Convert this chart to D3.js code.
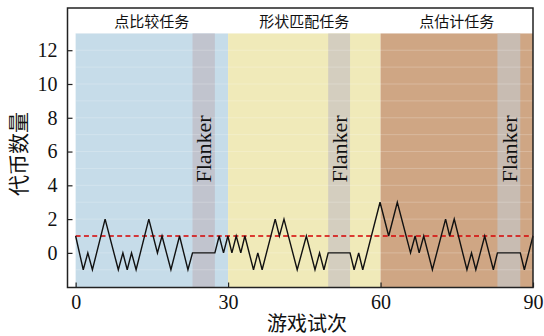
<!DOCTYPE html>
<html>
<head>
<meta charset="utf-8">
<script src="https://cdn.jsdelivr.net/npm/d3@7"></script>
<style>
  body { margin: 0; background: #fff; }
  svg { display: block; }
</style>
</head>
<body>
<div id="chart"></div>
<script>
// task blocks (trial ranges) and their names
var taskNames = ["点比较任务", "形状匹配任务", "点估计任务"];
var taskStart = [0, 30, 60];
var taskEnd = [30, 60, 90];
var taskColors = ["#c6dce9", "#f0eab9", "#cfa684"];

// flanker blocks inside each task
var flankerStart = [23.0, 49.7, 83.0];
var flankerEnd = [27.4, 54.0, 87.5];
var flankerColors = ["#c1c4ce", "#d4cebf", "#c8bcb2"];

// token count walk (vertex positions)
var trialX = [0, 1.5, 2.4, 3.3, 5.8, 8.4, 9.3, 10.15, 11.0, 11.9, 14.4, 16.1, 17.0, 18.75, 20.45, 22.1, 23.0, 27.4, 28.25, 29.1, 29.96,
  30.75, 31.6, 32.5, 33.3, 35.0, 35.85, 36.7, 39.27, 40.1, 41.0, 43.6, 45.4, 47.1, 48.0, 48.86, 49.7, 54.0, 54.8, 55.7, 56.5, 59.9,
  61.6, 63.3, 65.9, 66.8, 67.6, 68.5, 70.2, 72.8, 73.6, 74.5, 77.0, 77.9, 78.75, 80.5, 82.2, 83.0, 87.5, 88.3, 90];
var tokens = [1, -1, 0, -1, 2, -1, 0, -1, 0, -1, 2, 0, 1, -1, 1, -1, 0, 0, 1, 0, 1,
  0, 1, 0, 1, -1, 0, -1, 2, 1, 2, -1, 1, -1, 0, -1, 0, 0, -1, 0, -1, 3,
  1, 3, 0, 1, 0, 1, -1, 2, 1, 2, -1, 0, -1, 1, -1, 0, 0, -1, 1];

var baseline = 1; // red dashed reference
var xTicks = [0, 30, 60, 90];
var yTicks = [0, 2, 4, 6, 8, 10, 12];

var width = 544, height = 336;
var serif = "'Liberation Serif', 'Times New Roman', serif";
var cjk = "'Noto Sans CJK SC', sans-serif";

var svg = d3.select("#chart").append("svg")
  .attr("width", width)
  .attr("height", height);

var x = d3.scaleLinear().domain([-1.6, 90]).range([67.5, 533]);
var y = d3.scaleLinear().domain([-2.05, 14.5]).range([287.5, 8]);
var bandTop = 13;

//task background bands
svg.selectAll(".task").data(taskNames).enter()
  .append("rect")
  .attr("class", "task")
  .attr("x", function(d, i){ return x(taskStart[i]); })
  .attr("width", function(d, i){ return x(taskEnd[i]) - x(taskStart[i]); })
  .attr("y", y(bandTop))
  .attr("height", y(-2.05) - y(bandTop))
  .attr("fill", function(d, i){ return taskColors[i]; });

svg.selectAll(".flanker").data(flankerStart).enter()
  .append("rect")
  .attr("class", "flanker")
  .attr("x", function(d, i){ return x(flankerStart[i]); })
  .attr("width", function(d, i){ return x(flankerEnd[i]) - x(flankerStart[i]); })
  .attr("y", y(bandTop))
  .attr("height", y(-2.05) - y(bandTop))
  .attr("fill", function(d, i){ return flankerColors[i]; });

//faint horizontal grid
svg.selectAll(".grid").data(d3.range(-1, bandTop + 1)).enter()
  .append("line")
  .attr("class", "grid")
  .attr("x1", x(0)).attr("x2", x(90))
  .attr("y1", function(d){ return y(d); })
  .attr("y2", function(d){ return y(d); })
  .attr("stroke", "#fff")
  .attr("stroke-opacity", 0.22)
  .attr("stroke-width", 1);

// task titles
svg.selectAll(".tname").data(taskNames).enter()
  .append("text")
  .attr("class", "tname")
  .attr("x", function(d, i){ return x((taskStart[i] + taskEnd[i]) / 2); })
  .attr("y", 27)
  .attr("text-anchor", "middle")
  .style("font-family", cjk)
  .style("font-size", "15px")
  .attr("fill", "#111")
  .text(function(d){ return d; });

// flanker labels
svg.selectAll(".flabel").data(flankerStart).enter()
  .append("text")
  .attr("class", "flabel")
  .attr("transform", function(d, i){
    return "translate(" + x((flankerStart[i] + flankerEnd[i]) / 2) + ",149) rotate(-90)";
  })
  .attr("text-anchor", "middle")
  .attr("dy", "0.35em")
  .style("font-family", serif)
  .style("font-size", "22px")
  .attr("fill", "#111")
  .text("Flanker");

// baseline
svg.append("line")
  .attr("x1", x(0)).attr("x2", x(90))
  .attr("y1", y(baseline)).attr("y2", y(baseline))
  .attr("stroke", "#d40000")
  .attr("stroke-width", 1.3)
  .attr("stroke-dasharray", "5,3.3");

var line = d3.line()
  .x(function(d, i){ return x(trialX[i]); })
  .y(function(d){ return y(d); });

svg.append("path")
  .datum(tokens)
  .attr("d", line)
  .attr("fill", "none")
  .attr("stroke", "#111")
  .attr("stroke-width", 1.4)
  .attr("stroke-linejoin", "miter");

// axes
var yAxis = svg.append("g")
  .attr("transform", "translate(" + x(-1.6) + ",0)")
  .call(d3.axisLeft(y).tickValues(yTicks).tickSize(-5).tickPadding(10));
var xAxis = svg.append("g")
  .attr("transform", "translate(0," + y(-2.05) + ")")
  .call(d3.axisBottom(x).tickValues(xTicks).tickSize(-5).tickPadding(7));

[xAxis, yAxis].forEach(function(a){
  a.select(".domain").remove();
  a.selectAll(".tick line").attr("stroke", "#222").attr("stroke-width", 1.2);
  a.selectAll(".tick text")
    .style("font-family", serif)
    .style("font-size", "20px")
    .attr("fill", "#111");
});

// frame
svg.append("rect")
  .attr("x", x(-1.6)).attr("y", y(14.5))
  .attr("width", x(90) - x(-1.6))
  .attr("height", y(-2.05) - y(14.5))
  .attr("fill", "none")
  .attr("stroke", "#222")
  .attr("stroke-width", 1.5);

// axis titles
svg.append("text")
  .attr("x", 307).attr("y", 331)
  .attr("text-anchor", "middle")
  .style("font-family", cjk)
  .style("font-size", "20px")
  .attr("fill", "#111")
  .text("游戏试次");

svg.append("text")
  .attr("transform", "translate(19,154) rotate(-90)")
  .attr("text-anchor", "middle")
  .attr("dy", "0.35em")
  .style("font-family", cjk)
  .style("font-size", "21px")
  .attr("fill", "#111")
  .text("代币数量");
</script>
</body>
</html>
